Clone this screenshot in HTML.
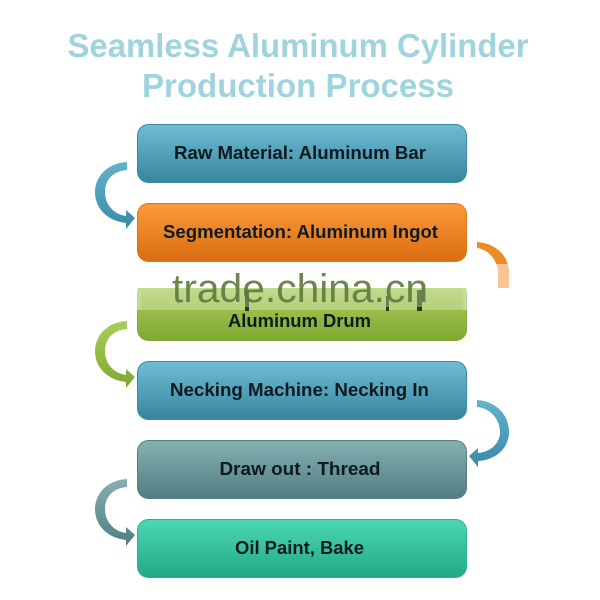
<!DOCTYPE html>
<html>
<head>
<meta charset="utf-8">
<style>
html,body{margin:0;padding:0;background:#fff}
svg{display:block;filter:blur(0.3px)}
text{font-family:"Liberation Sans",sans-serif}
</style>
</head>
<body>
<svg width="600" height="600" viewBox="0 0 600 600" xmlns="http://www.w3.org/2000/svg">
<defs>
<linearGradient id="b" x1="0" y1="0" x2="0" y2="1"><stop offset="0" stop-color="#6fbdd4"/><stop offset="1" stop-color="#37849f"/></linearGradient>
<linearGradient id="o" x1="0" y1="0" x2="0" y2="1"><stop offset="0" stop-color="#fb9a3c"/><stop offset="1" stop-color="#d96c0e"/></linearGradient>
<linearGradient id="g" x1="0" y1="0" x2="0" y2="1"><stop offset="0" stop-color="#b0d064"/><stop offset="1" stop-color="#7fa82e"/></linearGradient>
<linearGradient id="t" x1="0" y1="0" x2="0" y2="1"><stop offset="0" stop-color="#86b0b2"/><stop offset="1" stop-color="#4f7d81"/></linearGradient>
<linearGradient id="m" x1="0" y1="0" x2="0" y2="1"><stop offset="0" stop-color="#4bd8b0"/><stop offset="1" stop-color="#22a888"/></linearGradient>
<linearGradient id="ab" x1="0" y1="0" x2="0" y2="1"><stop offset="0" stop-color="#63b3cc"/><stop offset="1" stop-color="#3a8aa8"/></linearGradient>
<linearGradient id="ag" x1="0" y1="0" x2="0" y2="1"><stop offset="0" stop-color="#a9cc58"/><stop offset="1" stop-color="#7fa82e"/></linearGradient>
<linearGradient id="at" x1="0" y1="0" x2="0" y2="1"><stop offset="0" stop-color="#86b0b2"/><stop offset="1" stop-color="#4f7d81"/></linearGradient>
<linearGradient id="band" x1="0" y1="0" x2="1" y2="0"><stop offset="0" stop-color="#fff" stop-opacity="0.7"/><stop offset="0.03" stop-color="#fff" stop-opacity="0.28"/><stop offset="0.97" stop-color="#fff" stop-opacity="0.28"/><stop offset="1" stop-color="#fff" stop-opacity="0.7"/></linearGradient>
</defs>

<text x="298" y="57" text-anchor="middle" font-size="33" font-weight="bold" fill="#9fd3de" textLength="461" lengthAdjust="spacingAndGlyphs">Seamless Aluminum Cylinder</text>
<text x="298" y="97" text-anchor="middle" font-size="33" font-weight="bold" fill="#9fd3de" textLength="312" lengthAdjust="spacingAndGlyphs">Production Process</text>

<!-- arrows -->
<path fill="url(#ab)" d="M127 162 C106 163 95 178 95 192 C95 209 108 221 126 223 L126 229 L135 218 L126 210 L126 216 C113 214 105 204 105 192 C105 180 113 171 127 170 Z"/>
<path fill="url(#ag)" transform="translate(0 159)" d="M127 162 C106 163 95 178 95 192 C95 209 108 221 126 223 L126 229 L135 218 L126 210 L126 216 C113 214 105 204 105 192 C105 180 113 171 127 170 Z"/>
<path fill="url(#at)" transform="translate(0 317)" d="M127 162 C106 163 95 178 95 192 C95 209 108 221 126 223 L126 229 L135 218 L126 210 L126 216 C113 214 105 204 105 192 C105 180 113 171 127 170 Z"/>
<path fill="url(#ab)" d="M477 400 C495 401 509 414 509 432 C509 448 496 460 478 461 L478 467 L469 456 L478 448 L478 453 C491 452 500 443 500 432 C500 419 490 408 477 407 Z"/>
<path fill="#ef8a2c" d="M477 242 C492 243 507 252 509 270 L509 288 L498 288 L498 270 C496 258 487 249 477 248 Z"/>
<rect x="470" y="264" width="45" height="24" fill="#fff" fill-opacity="0.5"/>

<!-- boxes -->
<rect x="137.500" y="124.500" width="329" height="58" rx="11" fill="url(#b)" stroke="#3d8aa3"/>
<rect x="137.500" y="203.500" width="329" height="58" rx="11" fill="url(#o)" stroke="#d9771d"/>
<rect x="137.500" y="282.500" width="329" height="58" rx="11" fill="url(#g)" stroke="#85a83c"/>
<rect x="137.500" y="361.500" width="329" height="58" rx="11" fill="url(#b)" stroke="#3d8aa3"/>
<rect x="137.500" y="440.500" width="329" height="58" rx="11" fill="url(#t)" stroke="#55807f"/>
<rect x="137.500" y="519.500" width="329" height="58" rx="11" fill="url(#m)" stroke="#2eae8e"/>

<g font-size="18.500" font-weight="bold" fill="#0f1a1f" text-anchor="middle">
<text x="300" y="159" textLength="252" lengthAdjust="spacingAndGlyphs">Raw Material: Aluminum Bar</text>
<text x="300.500" y="238" textLength="275" lengthAdjust="spacingAndGlyphs">Segmentation: Aluminum Ingot</text>
<text x="299.500" y="327" textLength="143" lengthAdjust="spacingAndGlyphs">Aluminum Drum</text>
<text x="299.500" y="396" textLength="259" lengthAdjust="spacingAndGlyphs">Necking Machine: Necking In</text>
<text x="300" y="475" textLength="161" lengthAdjust="spacingAndGlyphs">Draw out : Thread</text>
<text x="299.500" y="554" textLength="129" lengthAdjust="spacingAndGlyphs">Oil Paint, Bake</text>
</g>

<!-- watermark band -->
<rect x="130" y="263" width="340" height="25" fill="#fff"/>
<rect x="132" y="288" width="340" height="22" fill="url(#band)"/>
<rect x="245" y="290" width="4" height="17" fill="#6b7f58"/>
<rect x="386" y="296" width="3" height="11" fill="#6b7f58"/>
<rect x="417" y="290" width="5" height="17" fill="#6b7f58"/>
<rect x="245" y="307" width="4" height="4" fill="#2b3a1c"/>
<rect x="386" y="307" width="3" height="4" fill="#2b3a1c"/>
<rect x="417" y="307" width="5" height="4" fill="#2b3a1c"/>
<text x="300" y="302" text-anchor="middle" font-size="40" fill="#5b7a3c" fill-opacity="0.9" textLength="256" lengthAdjust="spacingAndGlyphs">trade.china.cn</text>
</svg>
</body>
</html>
